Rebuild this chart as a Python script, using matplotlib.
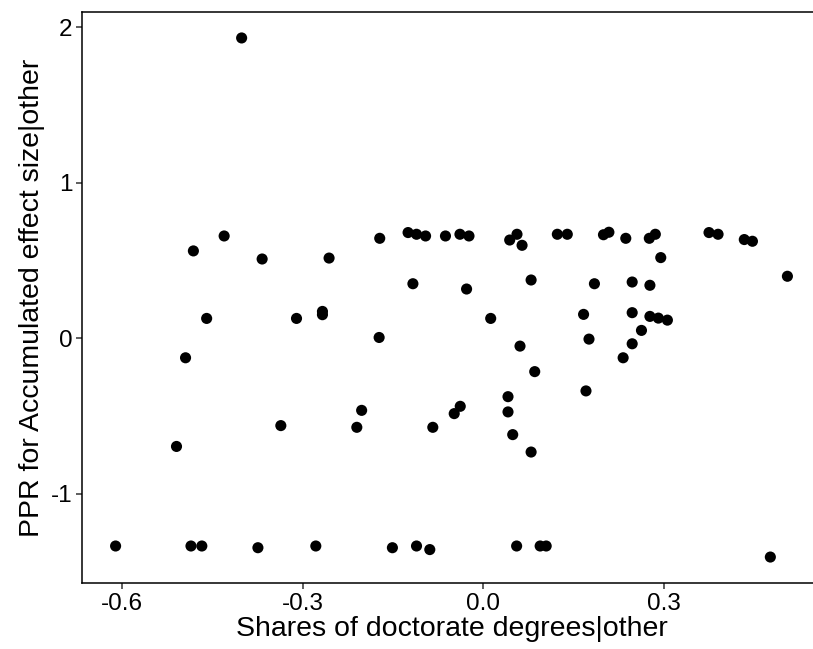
import numpy as np
import matplotlib.pyplot as plt

plt.rcParams["font.family"] = ["Liberation Sans", "DejaVu Sans"]

# Values
shares_other = [
    -0.401, -0.481, -0.430, -0.367, -0.256, -0.172, -0.125, -0.111, -0.096, -0.063,
    -0.117, -0.039, -0.024, -0.028, 0.0435, 0.0556, 0.064, 0.079, 0.1225, 0.139,
    0.184, 0.199, 0.208, 0.236, 0.2466, 0.275, 0.285, 0.294, 0.276, 0.374,
    0.389, 0.4325, 0.446, 0.504,
    -0.459, -0.494, -0.509, -0.310, -0.267, -0.267, -0.173, -0.202, -0.210, -0.336,
    -0.084, -0.610, -0.485, -0.467, -0.374, -0.278, -0.151, -0.111, -0.089,
    0.012, 0.0606, 0.085, 0.0407, 0.0407, -0.0385, -0.0485, 0.0485, 0.079,
    0.166, 0.175, 0.2466, 0.276, 0.290, 0.305, 0.262, 0.2466, 0.2316, 0.170,
    0.055, 0.094, 0.104, 0.4757,
]
ppr_other = [
    1.93, 0.561, 0.657, 0.509, 0.515, 0.642, 0.679, 0.668, 0.657, 0.657,
    0.350, 0.668, 0.657, 0.316, 0.631, 0.668, 0.597, 0.374, 0.668, 0.668,
    0.350, 0.665, 0.681, 0.642, 0.361, 0.642, 0.668, 0.518, 0.340, 0.679,
    0.668, 0.634, 0.623, 0.398,
    0.127, -0.126, -0.696, 0.127, 0.172, 0.151, 0.0045, -0.464, -0.573, -0.562,
    -0.573, -1.336, -1.336, -1.336, -1.347, -1.336, -1.347, -1.336, -1.359,
    0.127, -0.051, -0.215, -0.376, -0.474, -0.438, -0.485, -0.620, -0.732,
    0.153, -0.006, 0.164, 0.140, 0.129, 0.116, 0.050, -0.036, -0.126, -0.339,
    -1.336, -1.336, -1.336, -1.407,
]

x = np.array(shares_other)
y = np.array(ppr_other)

fig = plt.figure(figsize=(8.13, 6.49), dpi=100)
# panel runs slightly past the right edge of the image, as in the reference
ax = fig.add_axes([82 / 813, 1 - 583 / 649, (821 - 82) / 813, (583 - 12) / 649])

ax.scatter(x, y, s=64, color="black", edgecolors="none", zorder=3)

# ggplot-style 5% expansion
xr = x.max() - x.min()
yr = y.max() - y.min()
ax.set_xlim(x.min() - 0.05 * xr, x.max() + 0.05 * xr)
ax.set_ylim(y.min() - 0.05 * yr, y.max() + 0.05 * yr)

ax.set_xticks([-0.6, -0.3, 0.0, 0.3])
ax.set_xticklabels(["-0.6", "-0.3", "0.0", "0.3"])
ax.set_yticks([-1, 0, 1, 2])
ax.set_yticklabels(["-1", "0", "1", "2"])

for side in ax.spines.values():
    side.set_linewidth(1.1)
    side.set_color("black")

ax.tick_params(axis="both", length=4, width=1.1, color="#333333",
               labelsize=17.5, labelcolor="black", pad=3)

ax.set_xlabel("Shares of doctorate degrees|other", fontsize=20.5, labelpad=1)
ax.set_ylabel("PPR for Accumulated effect size|other", fontsize=20.5, labelpad=4)

fig.savefig("out.png", dpi=100)
